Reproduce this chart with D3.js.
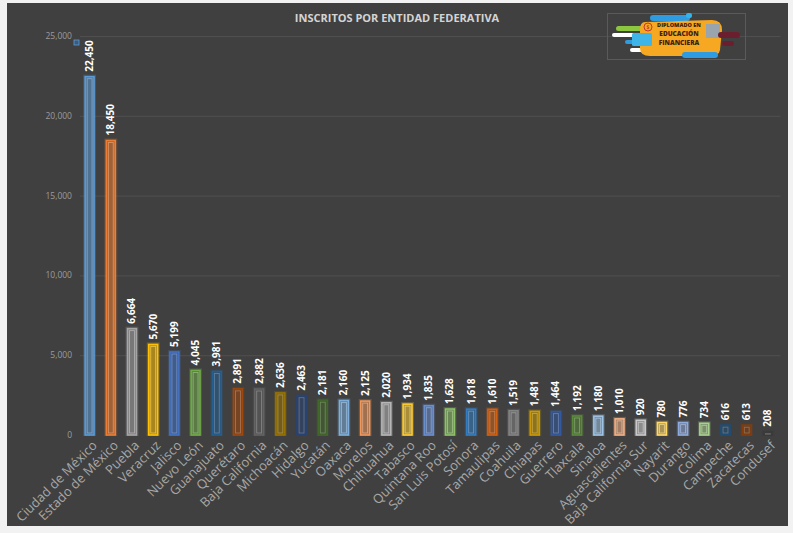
<!DOCTYPE html>
<html>
<head>
<meta charset="utf-8">
<script src="https://cdn.jsdelivr.net/npm/d3@7"></script>
<style>
  html, body { margin: 0; padding: 0; background: #f2f2f2; }
  svg { display: block; }
</style>
</head>
<body>
<script>
const estados = ['Ciudad de México', 'Estado de México', 'Puebla', 'Veracruz', 'Jalisco', 'Nuevo León',
    'Guanajuato', 'Querétaro', 'Baja California', 'Michoacán', 'Hidalgo', 'Yucatán', 'Oaxaca', 'Morelos',
    'Chihuahua', 'Tabasco', 'Quintana Roo', 'San Luis Potosí', 'Sonora', 'Tamaulipas', 'Coahuila', 'Chiapas',
    'Guerrero', 'Tlaxcala', 'Sinaloa', 'Aguascalientes', 'Baja California Sur', 'Nayarit', 'Durango', 'Colima',
    'Campeche', 'Zacatecas', 'Condusef'];
const inscritos = [22450, 18450, 6664, 5670, 5199, 4045, 3981, 2891, 2882, 2636, 2463, 2181, 2160, 2125,
    2020, 1934, 1835, 1628, 1618, 1610, 1519, 1481, 1464, 1192, 1180, 1010, 920, 780, 776, 734, 616, 613, 208];
const colores = ['#5b9bd5', '#ed7d31', '#a5a5a5', '#ffc000', '#4472c4', '#70ad47',
    '#255e91', '#9e480e', '#636363', '#997300', '#264478', '#43682b',
    '#7cafdd', '#f1975a', '#b7b7b7', '#ffcd33', '#698ed0', '#8cc168',
    '#327dc2', '#d26012', '#848484', '#cc9a00', '#335aa1', '#5a8a39',
    '#9dc3e6', '#f4b183', '#c9c9c9', '#ffd966', '#8faadc', '#a9d18e',
    '#1f4e79', '#843c0c', '#3a3a3a'];
const yTicks = [0, 5000, 10000, 15000, 20000, 25000];
const titulo = 'INSCRITOS POR ENTIDAD FEDERATIVA';

const W = 793, H = 533;
const marginTop = 36, marginBottom = 98, marginLeft = 79, marginRight = 14.5;

const data = estados.map((e, i) => ({ estado: e, valor: inscritos[i], color: colores[i] }));

const svg = d3.select('body').append('svg').attr('width', W).attr('height', H);

// dark panel
svg.append('rect')
    .attr('x', 7).attr('y', 3).attr('width', 781).attr('height', 523)
    .attr('fill', '#404040');

const x = d3.scaleBand().domain(estados).range([marginLeft, W - marginRight]).padding(0);
const y = d3.scaleLinear().domain([0, 25000]).range([H - marginBottom, marginTop]);
const bw = x.bandwidth() * 0.42;
const cx = d => x(d.estado) + x.bandwidth() / 2;

// grid
svg.append('g')
    .selectAll('line')
    .data(yTicks.filter(t => t > 0))
    .join('line')
    .attr('x1', marginLeft + 1).attr('x2', W - marginRight + 2)
    .attr('y1', d => y(d) + 0.5).attr('y2', d => y(d) + 0.5)
    .attr('stroke', '#4f4f4f').attr('stroke-width', 1);

// y axis labels
svg.append('g')
    .selectAll('text')
    .data(yTicks)
    .join('text')
    .attr('x', 72)
    .attr('y', d => y(d))
    .attr('dy', '0.35em')
    .attr('text-anchor', 'end')
    .attr('font-family', 'Open Sans, sans-serif')
    .attr('font-size', 8.5)
    .attr('fill', '#9c9c9c')
    .text(d => d3.format(',')(d));

// tiny legend marker
svg.append('rect')
    .attr('x', 74).attr('y', 40).attr('width', 5).attr('height', 5)
    .attr('fill', '#3d5a78').attr('stroke', '#5b9bd5').attr('stroke-width', 0.8);

// bars: glow, body, inner highlight
const bars = svg.append('g').selectAll('g').data(data).join('g');

bars.append('rect')
    .attr('x', d => cx(d) - bw / 2 - 1)
    .attr('y', d => y(d.valor) - 1)
    .attr('width', bw + 2)
    .attr('height', d => y(0) - y(d.valor) + 1)
    .attr('fill', 'none')
    .attr('stroke', d => d.color)
    .attr('stroke-opacity', 0.25)
    .attr('stroke-width', 2);

bars.append('rect')
    .attr('x', d => cx(d) - bw / 2)
    .attr('y', d => y(d.valor))
    .attr('width', bw)
    .attr('height', d => y(0) - y(d.valor))
    .attr('fill', d => d3.interpolateRgb('#404040', d.color)(0.55))
    .attr('stroke', d => d.color)
    .attr('stroke-width', 1.6);

bars.append('rect')
    .attr('x', d => cx(d) - bw / 2 + 2)
    .attr('y', d => Math.min(y(d.valor) + 2, y(0) - 1))
    .attr('width', bw - 4)
    .attr('height', d => Math.max(y(0) - y(d.valor) - 4, 0.5))
    .attr('fill', 'none')
    .attr('stroke', d => d3.interpolateRgb(d.color, '#ffffff')(0.35))
    .attr('stroke-opacity', 0.7)
    .attr('stroke-width', 0.9);

// data labels
svg.append('g')
    .selectAll('text')
    .data(data)
    .join('text')
    .attr('transform', d => `translate(${cx(d)}, ${y(d.valor) - 5}) rotate(-90)`)
    .attr('dy', '0.35em')
    .attr('font-family', 'Open Sans, sans-serif')
    .attr('font-weight', 'bold')
    .attr('font-size', 10)
    .attr('fill', '#ffffff')
    .text(d => d3.format(',')(d.valor));

// category labels
svg.append('g')
    .selectAll('text')
    .data(data)
    .join('text')
    .attr('transform', d => `translate(${cx(d) + 5}, ${H - marginBottom + 8}) rotate(-45)`)
    .attr('dy', '0.35em')
    .attr('text-anchor', 'end')
    .attr('font-family', 'Open Sans, sans-serif')
    .attr('font-size', 13)
    .attr('fill', '#a8a8a8')
    .text(d => d.estado);

// title
svg.append('text')
    .attr('x', 397).attr('y', 18)
    .attr('dy', '0.35em')
    .attr('text-anchor', 'middle')
    .attr('font-family', 'Open Sans, sans-serif')
    .attr('font-weight', 'bold')
    .attr('font-size', 11)
    .attr('fill', '#d4d4d4')
    .text(titulo);

// logo picture (decorative)
const logo = svg.append('g');
logo.append('rect').attr('x', 607.5).attr('y', 13.5).attr('width', 138).attr('height', 46)
    .attr('fill', 'none').attr('stroke', '#5a5a5a').attr('stroke-width', 1);
logo.append('rect').attr('x', 650).attr('y', 15).attr('width', 40).attr('height', 6).attr('rx', 3).attr('fill', '#2f9be0');
logo.append('rect').attr('x', 686).attr('y', 13).attr('width', 6).attr('height', 5).attr('rx', 2).attr('fill', '#2fb5e8');
logo.append('rect').attr('x', 616).attr('y', 26).attr('width', 28).attr('height', 5).attr('rx', 2.5).attr('fill', '#8cc63f');
logo.append('rect').attr('x', 612).attr('y', 33).attr('width', 26).attr('height', 4).attr('rx', 2).attr('fill', '#ffffff');
logo.append('rect').attr('x', 625).attr('y', 40).attr('width', 20).attr('height', 4).attr('rx', 2).attr('fill', '#2f9be0');
logo.append('rect').attr('x', 630).attr('y', 48).attr('width', 14).attr('height', 4).attr('rx', 2).attr('fill', '#ffffff');
logo.append('path')
    .attr('d', 'M645,22 L712,20 Q722,20 722,30 L720,50 Q719,56 710,56 L650,56 Q640,56 640,48 L640,30 Q640,22 645,22 Z')
    .attr('fill', '#f7a823');
logo.append('rect').attr('x', 632).attr('y', 33).attr('width', 20).attr('height', 13).attr('rx', 1.5).attr('fill', '#3fb4e6');
logo.append('rect').attr('x', 706).attr('y', 24).attr('width', 14).attr('height', 14).attr('fill', '#9aa4ad');
logo.append('rect').attr('x', 718).attr('y', 32).attr('width', 22).attr('height', 6).attr('rx', 3).attr('fill', '#6b1f2e');
logo.append('rect').attr('x', 722).attr('y', 41).attr('width', 12).attr('height', 5).attr('rx', 2.5).attr('fill', '#6b1f2e');
logo.append('rect').attr('x', 682).attr('y', 52).attr('width', 36).attr('height', 6).attr('rx', 3).attr('fill', '#2f9be0');
logo.append('circle').attr('cx', 648).attr('cy', 27).attr('r', 4).attr('fill', '#f7a823').attr('stroke', '#c0392b').attr('stroke-width', 1);
logo.append('text').attr('x', 648).attr('y', 29).attr('text-anchor', 'middle')
    .attr('font-family', 'Open Sans, sans-serif').attr('font-weight', 'bold').attr('font-size', 5).attr('fill', '#c0392b').text('$');
[['DIPLOMADO EN', 27, 5.5], ['EDUCACIÓN', 36, 6.5], ['FINANCIERA', 45, 6.5]].forEach(([t, ty, fs]) => {
    logo.append('text').attr('x', 679).attr('y', ty).attr('text-anchor', 'middle')
        .attr('font-family', 'Open Sans, sans-serif').attr('font-weight', 800).attr('font-size', fs)
        .attr('fill', '#3b2410').text(t);
});
</script>
</body>
</html>
